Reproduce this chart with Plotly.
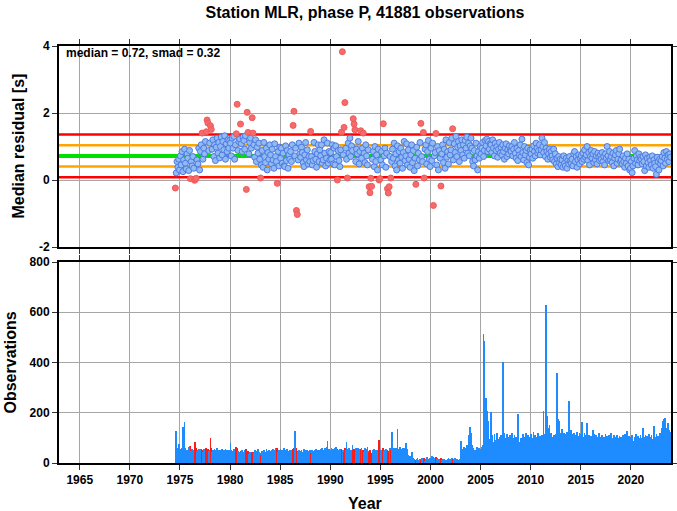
import plotly.graph_objects as go

# ---------------- data ----------------
START_YEAR = 1974
START_MONTH = 7  # July 1974

MEDIAN = 0.72
SMAD = 0.32

res_1970s = [
    -0.24, 0.21, 0.55, 0.38, 0.62, 0.30,
    0.72, 0.45, 0.85, 0.25, 0.60, 0.92, 0.50, 0.33, 0.78, 0.65, 0.28, 0.88,
    0.04, 0.55, 0.42, 0.70, 0.35, -0.01, 0.02, 0.05, 0.60, 0.48, 0.95, 0.30,
    0.85, 1.05, 1.40, 0.62, 0.95, 0.78, 1.15, 1.44, 1.79, 1.70, 0.88, 1.10,
    1.62, 1.51, 0.92, 1.20, 0.70, 1.05, 0.58, 0.98, 1.25, 0.80, 1.12, 0.66,
    1.00, 1.28, 0.75, 1.15, 0.90, 1.32, 0.62, 1.08, 0.85, 1.20, 0.95, 1.18,
]
res_1980s = [
    1.10, 0.72, 1.25, 0.95, 1.30, 0.62, 1.05, 1.38, 2.26, 0.88, 1.15, 1.22,
    1.67, 1.08, 0.85, 1.28, 1.18, 0.92, 1.32, -0.28, 2.02, 1.42, 0.78, 1.12,
    1.25, 0.95, 1.86, 1.40, 1.05, 0.68, 1.20, 0.55, 0.98, 0.80, 1.10, 0.62,
    0.06, 0.45, 0.88, 0.38, 1.12, 0.70, 0.52, 0.95, 0.30, 0.82, 0.62, 1.05,
    0.75, 0.48, 0.92, 0.60, 0.35, 1.08, 0.70, 0.55, -0.10, 0.85, 0.42, 0.98,
    0.65, 0.95, 0.50, 0.80, 0.42, 0.40, 1.02, 0.58, 0.88, 0.35, 0.75, 0.62,
    0.85, 0.55, 1.05, 1.63, 2.05, 0.72, 0.95, -0.91, -1.03, 0.60, 1.10, 0.78,
    0.68, 0.98, 0.82, 0.52, 0.40, 0.75, 1.12, 0.60, 0.90, 0.48, 0.70, 0.55,
    1.45, 0.70, 0.45, 0.58, 1.12, 0.85, 0.62, 0.38, 0.78, 1.05, 0.55, 0.90,
    0.72, 1.05, 0.50, 0.60, 1.20, 0.80, 0.42, 0.65, 1.10, 0.50, 0.85, 0.60,
]
res_1990s = [
    0.82, 0.62, 1.05, 0.48, 0.95, 0.45, 1.02, 0.70, 0.00, 0.88, 0.58, 0.40,
    0.90, 1.43, 3.83, 0.75, 1.57, 2.31, 0.95, 0.62, 0.06, 1.10, 0.80, 1.25,
    0.70, 1.02, 0.88, 1.83, 1.67, 1.50, 0.55, 0.92, 0.78, 1.15, 0.48, 0.85,
    1.47, 0.65, 0.95, 1.40, 0.80, 0.52, 1.05, 0.72, 0.45, 0.90, -0.20, -0.38,
    0.05, -0.19, 0.62, 0.85, 0.40, 1.00, 0.55, 0.75, 0.30, 0.92, 0.00, 0.04,
    0.60, 0.85, 0.45, 1.68, 0.72, 0.95, 0.38, 0.80, -0.26, -0.39, -0.20, 0.70,
    0.06, 0.55, 0.92, 0.65, 1.10, 0.42, 0.78, 0.30, 1.02, 0.60, 0.85, 0.50,
    0.95, 0.68, 0.35, 0.82, 1.15, 0.58, 0.72, 1.08, 0.45, 0.90, 0.62, 0.38,
    0.75, 1.05, 0.52, 0.88, 0.28, 0.65, -0.13, 0.98, 0.42, 0.80, 0.60, 1.12,
    1.69, 0.70, 0.55, 1.42, 0.06, 0.92, 1.05, 0.48, 0.85, 1.18, 0.62, 0.40,
]
res_2000s = [
    0.95, 0.58, 1.10, -0.76, 0.72, 0.82, 1.39, 0.45, 1.00, 0.30, 0.88, 0.65,
    -0.18, 0.78, 1.05, 0.52, 0.92, 0.35, 1.20, 0.68, 0.85, 0.48, 1.12, 0.75,
    0.90, 1.25, 1.53, 0.60, 1.08, 0.82, 1.30, 0.70, 0.98, 1.15, 0.55, 1.02,
    0.88, 1.20, 0.75, 1.05, 0.65, 1.18, 0.95, 1.28, 0.80, 1.10, 0.72, 1.02,
    1.25, 0.95, 0.55, 0.42, 0.88, 0.60, 1.10, 0.72, 0.30, 0.85, 0.65, 1.00,
    0.78, 0.95, 1.12, 0.70, 0.88, 1.18, 1.02, 1.22, 0.85, 1.15, 0.92, 1.08,
    1.05, 0.82, 1.20, 0.95, 0.72, 1.10, 0.88, 1.00, 0.68, 0.92, 1.12, 0.80,
    0.98, 0.75, 1.05, 0.85, 0.62, 0.95, 1.08, 0.70, 0.90, 0.78, 1.02, 0.88,
    0.85, 1.00, 0.72, 0.92, 1.12, 0.80, 0.65, 0.95, 0.58, 0.88, 0.75, 1.05,
    0.70, 1.22, 0.82, 0.60, 1.00, 0.75, 0.88, 0.52, 0.95, 0.45, 0.68, 0.90,
]
res_2010s = [
    0.78, 0.92, 0.65, 1.02, 0.85, 0.72, 1.10, 0.95, 0.80, 0.88, 1.05, 0.75,
    0.90, 1.25, 1.00, 0.82, 1.12, 0.70, 0.95, 0.85, 0.62, 0.78, 0.92, 0.68,
    0.85, 0.72, 0.60, 0.92, 0.55, 0.78, 0.48, 0.65, 0.40, 0.70, 0.52, 0.62,
    0.45, 0.60, 0.38, 0.72, 0.50, 0.42, 0.65, 0.35, 0.58, 0.48, 0.70, 0.55,
    0.50, 0.62, 0.42, 0.78, 0.85, 0.55, 0.70, 0.38, 0.60, 0.75, 0.48, 0.65,
    0.72, 0.55, 0.80, 0.62, 0.90, 0.68, 0.75, 1.00, 0.58, 0.82, 0.45, 0.70,
    0.88, 0.65, 0.78, 0.52, 0.85, 0.60, 0.72, 0.48, 0.80, 0.68, 0.58, 0.75,
    0.62, 0.82, 0.55, 0.70, 0.45, 0.78, 0.65, 1.00, 0.72, 0.58, 0.85, 0.60,
    0.70, 0.52, 0.80, 0.42, 0.65, 0.75, 0.88, 0.50, 0.62, 0.78, 0.92, 0.55,
    0.60, 0.48, 0.72, 0.55, 0.38, 0.65, 0.50, 0.78, 0.42, 0.62, 0.30, 0.35,
]
res_2020s = [
    0.55, 0.22, 0.42, 0.65, 0.88, 0.50, 0.72, 0.60, 0.45, 0.78, 0.58, 0.68,
    0.62, 0.48, 0.70, 0.55, 0.28, 0.75, 0.42, 0.65, 0.52, 0.38, 0.68, 0.58,
    0.45, 0.72, 0.35, 0.60, 0.50, 0.40, 0.17, 0.68, 0.55, 0.30, 0.62, 0.48,
    0.58, 0.70, 0.42, 0.82, 0.65, 0.50, 0.85, 0.62, 0.75, 0.55, 0.78, 0.68,
]

cnt_1970s = [
    33, 126, 60, 45, 77, 50,
    55, 48, 60, 142, 95, 162, 58, 45, 52, 40, 62, 69,
    69, 48, 55, 44, 50, 84, 82, 60, 46, 52, 55, 44,
    48, 56, 52, 45, 54, 40, 50, 58, 42, 55, 48, 52,
    98, 60, 45, 52, 48, 55, 42, 50, 58, 46, 53, 44,
    50, 47, 55, 42, 52, 48, 56, 44, 50, 53, 46, 51,
]
cnt_1980s = [
    80, 52, 45, 48, 55, 42, 50, 62, 58, 46, 40, 44,
    48, 42, 52, 38, 45, 50, 30, 55, 40, 48, 36, 44,
    40, 35, 45, 42, 38, 50, 32, 46, 40, 55, 44, 38,
    30, 42, 48, 38, 52, 45, 40, 55, 46, 42, 50, 44,
    48, 52, 45, 55, 42, 50, 58, 46, 60, 44, 52, 48,
    55, 48, 52, 45, 58, 42, 50, 46, 54, 48, 44, 52,
    46, 50, 42, 55, 60, 126, 52, 58, 48, 44, 50, 45,
    48, 52, 45, 40, 55, 50, 46, 42, 52, 48, 44, 50,
    38, 45, 50, 42, 48, 52, 55, 46, 40, 50, 44, 52,
    55, 50, 60, 48, 52, 58, 45, 62, 86, 50, 55, 48,
]
cnt_1990s = [
    52, 60, 48, 55, 50, 58, 62, 45, 55, 50, 48, 56,
    50, 55, 48, 52, 45, 60, 50, 84, 42, 55, 58, 48,
    52, 48, 73, 50, 55, 45, 58, 42, 52, 60, 48, 55,
    55, 60, 48, 52, 45, 58, 50, 55, 62, 48, 45, 52,
    40, 35, 50, 48, 55, 42, 52, 46, 50, 44, 93, 48,
    50, 45, 55, 60, 48, 52, 55, 45, 50, 48, 42, 60,
    52, 122, 55, 48, 60, 45, 58, 50, 135, 48, 55, 62,
    55, 48, 60, 52, 58, 50, 80, 45, 55, 30, 25, 28,
    22, 44, 18, 20, 15, 12, 10, 14, 18, 12, 8, 15,
    12, 20, 10, 15, 18, 8, 14, 22, 12, 16, 10, 18,
]
cnt_2000s = [
    20, 28, 15, 22, 18, 12, 25, 16, 20, 10, 14, 12,
    18, 12, 16, 8, 14, 10, 6, 12, 15, 18, 10, 14,
    12, 18, 15, 10, 14, 20, 12, 16, 10, 13, 8, 15,
    86, 45, 55, 40, 62, 50, 58, 70, 65, 90, 113, 142,
    120, 72, 60, 55, 48, 52, 45, 62, 55, 50, 58, 48,
    55, 62, 70, 513, 484, 140, 259, 206, 166, 120, 80, 95,
    203, 110, 70, 85, 115, 65, 92, 118, 80, 95, 105, 68,
    110, 75, 402, 139, 120, 100, 70, 115, 92, 105, 68, 110,
    95, 120, 72, 100, 110, 68, 105, 92, 195, 115, 78, 85,
    100, 70, 115, 85, 105, 66, 120, 88, 110, 72, 92, 105,
]
cnt_2010s = [
    115, 75, 100, 122, 68, 110, 95, 105, 118, 72, 100, 108,
    95, 110, 70, 206, 105, 115, 630, 186, 140, 110, 153, 100,
    120, 105, 75, 110, 68, 100, 115, 358, 175, 166, 130, 120,
    110, 135, 80, 120, 95, 72, 115, 125, 98, 248, 110, 70,
    130, 115, 75, 120, 95, 110, 68, 125, 90, 108, 118, 72,
    115, 163, 105, 70, 120, 110, 78, 159, 95, 112, 66, 100,
    108, 75, 133, 115, 70, 92, 110, 105, 68, 120, 88, 102,
    95, 110, 70, 105, 100, 115, 72, 108, 98, 112, 65, 105,
    119, 100, 72, 110, 88, 105, 68, 112, 92, 100, 108, 75,
    105, 70, 110, 92, 115, 68, 95, 126, 72, 108, 102, 70,
]
cnt_2020s = [
    95, 110, 68, 88, 105, 98, 115, 72, 108, 100, 70, 112,
    100, 75, 139, 105, 70, 110, 92, 108, 68, 115, 95, 105,
    110, 72, 95, 149, 105, 70, 115, 100, 108, 72, 120, 110,
    125, 140, 166, 175, 179, 150, 140, 120, 160, 130, 125, 113,
]

YEAR_TICKS = [1965, 1970, 1975, 1980, 1985, 1990, 1995, 2000, 2005, 2010, 2015, 2020]
RES_TICKS = [-2, 0, 2, 4]
RES_TICK_LABELS = ["-2", "0", "2", "4"]
CNT_TICKS = [0, 200, 400, 600, 800]

# ---------------- build ----------------
residuals = res_1970s + res_1980s + res_1990s + res_2000s + res_2010s + res_2020s
counts = cnt_1970s + cnt_1980s + cnt_1990s + cnt_2000s + cnt_2010s + cnt_2020s
n = min(len(residuals), len(counts))
residuals = residuals[:n]
counts = counts[:n]
times = [START_YEAR + (START_MONTH - 1 + i + 0.5) / 12.0 for i in range(n)]

lo2, hi2 = MEDIAN - 2 * SMAD, MEDIAN + 2 * SMAD
lo1, hi1 = MEDIAN - SMAD, MEDIAN + SMAD
is_out = [(r > hi2 or r < lo2) for r in residuals]

bt = [t for t, o in zip(times, is_out) if not o]
br = [r for r, o in zip(residuals, is_out) if not o]
rt = [t for t, o in zip(times, is_out) if o]
rr = [r for r, o in zip(residuals, is_out) if o]

bar_colors = ["#ff1a1a" if o else "#1e8cff" for o in is_out]

FONT = "Liberation Sans"
XR = [1962.93, 2024.0]

fig = go.Figure()

fig.add_trace(go.Bar(x=times, y=counts, width=0.85 / 12.0,
                     marker=dict(color=bar_colors, line=dict(width=0)),
                     xaxis="x2", yaxis="y2", showlegend=False, hoverinfo="skip"))

# reference lines (median, +-1 smad, +-2 smad) drawn under the points
for yv, col, w in [(lo2, "#ff0000", 2.5), (hi2, "#ff0000", 2.5),
                   (lo1, "#ffa500", 2.5), (hi1, "#ffa500", 2.5),
                   (MEDIAN, "#00e000", 4)]:
    fig.add_trace(go.Scatter(x=XR, y=[yv, yv], mode="lines", xaxis="x", yaxis="y",
                             line=dict(color=col, width=w), showlegend=False,
                             hoverinfo="skip"))

fig.add_trace(go.Scatter(x=bt, y=br, mode="markers", xaxis="x", yaxis="y",
                         marker=dict(size=6, color="#8ebcf2",
                                     line=dict(color="#5078e4", width=1)),
                         showlegend=False))
fig.add_trace(go.Scatter(x=rt, y=rr, mode="markers", xaxis="x", yaxis="y",
                         marker=dict(size=6, color="#f56b6b",
                                     line=dict(color="#f05a5a", width=1)),
                         showlegend=False))

axis_common = dict(showline=True, linecolor="black", linewidth=2, mirror="ticks",
                   ticks="outside", ticklen=5, tickcolor="#333333", tickwidth=1,
                   showgrid=True, gridcolor="#a6a6a6", gridwidth=1, zeroline=False,
                   automargin=False,
                   tickfont=dict(family=FONT, size=12, color="black", weight="bold"))

L, R, T, B = 59, 6, 46, 48
W, H = 677, 511
pw = W - L - R
ph = H - T - B


def px_x(px):
    return (px - L) / pw


def px_y(py):
    return (H - B - py) / ph


title_font = dict(family=FONT, size=16, color="black", weight="bold")

fig.update_layout(
    width=W, height=H,
    margin=dict(l=L, r=R, t=T, b=B, autoexpand=False),
    paper_bgcolor="white", plot_bgcolor="white",
    bargap=0,
    title=dict(text="Station MLR, phase P, 41881 observations", x=0.5, xanchor="center",
               xref="paper", yref="container", y=1 - 12 / H, yanchor="middle",
               font=title_font),
    xaxis=dict(domain=[0, 1], range=XR, tickvals=YEAR_TICKS, showticklabels=False,
               anchor="y", **axis_common),
    yaxis=dict(domain=[px_y(247), 1], range=[-2, 4], tickvals=RES_TICKS,
               ticktext=RES_TICK_LABELS, anchor="x", **axis_common),
    xaxis2=dict(domain=[0, 1], range=XR, tickvals=YEAR_TICKS, anchor="y2", **axis_common),
    yaxis2=dict(domain=[0, px_y(262)], range=[0, 800], tickvals=CNT_TICKS, anchor="x2",
                **axis_common),
    annotations=[
        dict(text="median = 0.72, smad = 0.32", xref="paper", yref="paper",
             x=px_x(64), y=px_y(53), xanchor="left", yanchor="middle", showarrow=False,
             font=dict(family=FONT, size=12, color="black", weight="bold")),
        dict(text="Median residual [s]", xref="paper", yref="paper",
             x=px_x(18), y=px_y(146.5), textangle=-90, xanchor="center", yanchor="middle",
             showarrow=False, font=title_font),
        dict(text="Observations", xref="paper", yref="paper",
             x=px_x(10), y=px_y(362.5), textangle=-90, xanchor="center", yanchor="middle",
             showarrow=False, font=title_font),
        dict(text="Year", xref="paper", yref="paper",
             x=px_x(365), y=px_y(503), xanchor="center", yanchor="middle",
             showarrow=False, font=title_font),
    ],
)

fig.write_html("out.html", config={"displayModeBar": False},
               post_script="document.body.style.margin='0px';document.body.style.padding='0px';")
